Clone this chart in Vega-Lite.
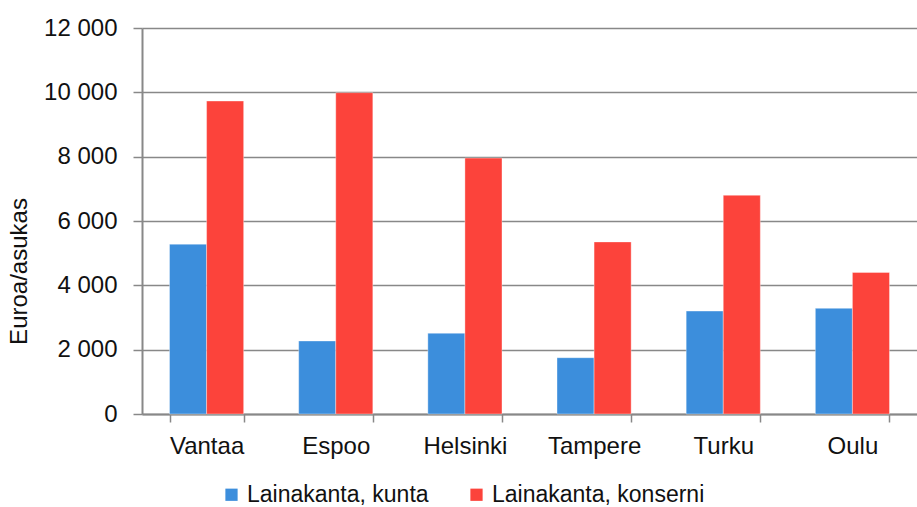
{
  "$schema": "https://vega.github.io/schema/vega-lite/v6.json",
  "autosize": {"type": "none"},
  "padding": {"left": 142, "top": 28, "right": 0, "bottom": 93},
  "width": 775,
  "height": 386,
  "background": "white",
  "config": {
    "font": "Liberation Sans",
    "view": {"stroke": null}
  },
  "data": {
    "values": [
      {"kaupunki": "Vantaa", "sarja": "Lainakanta, kunta", "arvo": 5280},
      {"kaupunki": "Vantaa", "sarja": "Lainakanta, konserni", "arvo": 9730},
      {"kaupunki": "Espoo", "sarja": "Lainakanta, kunta", "arvo": 2270},
      {"kaupunki": "Espoo", "sarja": "Lainakanta, konserni", "arvo": 9990},
      {"kaupunki": "Helsinki", "sarja": "Lainakanta, kunta", "arvo": 2510},
      {"kaupunki": "Helsinki", "sarja": "Lainakanta, konserni", "arvo": 7955},
      {"kaupunki": "Tampere", "sarja": "Lainakanta, kunta", "arvo": 1750},
      {"kaupunki": "Tampere", "sarja": "Lainakanta, konserni", "arvo": 5350},
      {"kaupunki": "Turku", "sarja": "Lainakanta, kunta", "arvo": 3200},
      {"kaupunki": "Turku", "sarja": "Lainakanta, konserni", "arvo": 6800},
      {"kaupunki": "Oulu", "sarja": "Lainakanta, kunta", "arvo": 3285},
      {"kaupunki": "Oulu", "sarja": "Lainakanta, konserni", "arvo": 4400}
    ]
  },
  "mark": {"type": "bar", "stroke": "#ffffff", "strokeWidth": 0.6, "strokeOpacity": 0.6},
  "encoding": {
    "x": {
      "field": "kaupunki",
      "type": "nominal",
      "sort": ["Vantaa", "Espoo", "Helsinki", "Tampere", "Turku", "Oulu"],
      "scale": {"paddingInner": 0.426, "paddingOuter": 0.213},
      "axis": {
        "title": null,
        "labelAngle": 0,
        "labelFontSize": 24,
        "labelColor": "#111111",
        "labelPadding": 12,
        "domainColor": "#888888",
        "domainWidth": 2,
        "tickColor": "#888888",
        "tickWidth": 1.5,
        "tickSize": 8,
        "tickBand": "extent",
        "grid": false
      }
    },
    "xOffset": {
      "field": "sarja",
      "type": "nominal",
      "sort": ["Lainakanta, kunta", "Lainakanta, konserni"],
      "scale": {"paddingInner": 0, "paddingOuter": 0}
    },
    "y": {
      "field": "arvo",
      "type": "quantitative",
      "scale": {"domain": [0, 12000], "nice": false},
      "axis": {
        "title": "Euroa/asukas",
        "titleFontSize": 24,
        "titleFontWeight": "normal",
        "titleColor": "#111111",
        "titleY": 243,
        "titlePadding": 12,
        "values": [0, 2000, 4000, 6000, 8000, 10000, 12000],
        "labelExpr": "replace(format(datum.value, ',d'), ',', ' ')",
        "labelFontSize": 24,
        "labelColor": "#111111",
        "labelPadding": 16,
        "domainColor": "#888888",
        "domainWidth": 2,
        "tickColor": "#888888",
        "tickWidth": 1.5,
        "tickSize": 9,
        "gridColor": "#888888",
        "gridWidth": 1.5
      }
    },
    "color": {
      "field": "sarja",
      "type": "nominal",
      "sort": ["Lainakanta, kunta", "Lainakanta, konserni"],
      "scale": {"range": ["#3C8EDC", "#FC433B"]},
      "legend": {
        "title": null,
        "orient": "none",
        "direction": "horizontal",
        "legendX": 78,
        "legendY": 455,
        "symbolType": "square",
        "symbolSize": 150,
        "symbolStrokeWidth": 0,
        "labelFontSize": 23,
        "labelColor": "#111111",
        "labelOffset": 4,
        "columnPadding": 36,
        "labelLimit": 400,
        "padding": 0
      }
    }
  }
}
